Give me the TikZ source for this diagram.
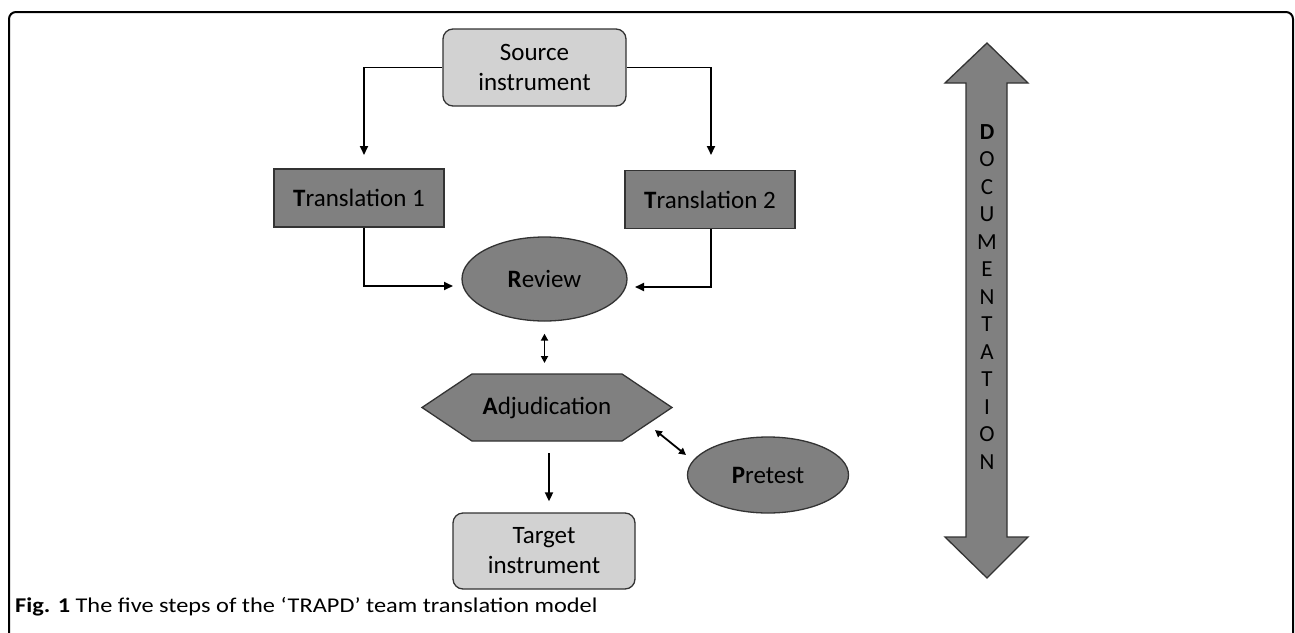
\documentclass[tikz,border=0pt]{standalone}
\usepackage{fontspec}
\setmainfont{Carlito}
\newfontfamily\capfont[FakeStretch=1.16]{Carlito}
\usetikzlibrary{arrows.meta,shapes.geometric}
\definecolor{darkfill}{HTML}{808080}
\definecolor{lightfill}{HTML}{D2D2D2}
\begin{document}
\begin{tikzpicture}[x=1pt,y=-1pt,
  lbl/.style={font=\fontsize{25}{30}\selectfont, text=black},
  lightbox/.style={draw=black!80, line width=1.3pt, fill=lightfill, rounded corners=10pt, minimum width=183pt, minimum height=77pt, align=center, lbl},
  darkbox/.style={draw=black!80, line width=1.3pt, fill=darkfill, minimum width=170pt, minimum height=58pt, lbl},
  darkell/.style={ellipse, draw=black!80, line width=1.3pt, fill=darkfill, inner sep=0pt, lbl},
  shapeline/.style={draw=black!80, line width=1.3pt, fill=darkfill},
  conn/.style={line width=1.8pt, -{Triangle[length=9pt,width=8pt]}},
  dconn/.style={line width=1.8pt, {Triangle[length=7pt,width=7pt]}-{Triangle[length=7pt,width=7pt]}}]
\useasboundingbox (0,0) rectangle (1295,632);
% frame
\draw[line width=2pt, rounded corners=7pt] (9,660) -- (9,12) -- (1293,12) -- (1293,660);
% nodes
\node[lightbox] (src) at (534.5,67.5) {Source\\instrument};
\node[darkbox] (t1) at (359,198) {\textbf{T}ranslation 1};
\node[darkbox] (t2) at (710,199.5) {\textbf{T}ranslation 2};
\node[darkell, minimum width=165pt, minimum height=84pt] (rev) at (544.5,279) {\textbf{R}eview};
\coordinate (hl) at (422,407.5);
\coordinate (htl) at (472,374);
\coordinate (htr) at (622,374);
\coordinate (hr) at (672,407.5);
\coordinate (hbr) at (622,441);
\coordinate (hbl) at (472,441);
\draw[shapeline] (hl) -- (htl) -- (htr) -- (hr) -- (hbr) -- (hbl) -- cycle;
\node[lbl] (adj) at (547,407.5) {\textbf{A}djudication};
\node[darkell, minimum width=161pt, minimum height=76pt] (pre) at (768,475) {\textbf{P}retest};
\node[lightbox, minimum width=182pt, minimum height=76pt] (tgt) at (544,551) {Target\\instrument};
% documentation arrow
\draw[shapeline] (987,43) -- (1028,83) -- (1007,83) -- (1007,537) -- (1028,537) -- (987,578) -- (945,537) -- (966,537) -- (966,83) -- (945,83) -- cycle;
\node[font=\fontsize{23}{27.5}\selectfont, align=center, inner sep=0pt] (doc) at (987,297)
  {\textbf{D}\\O\\C\\U\\M\\E\\N\\T\\A\\T\\I\\O\\N};
% connectors
\coordinate (a1) at (364,155);
\coordinate (a2) at (711,155);
\draw[conn] (src.west) -| (a1);
\draw[conn] (src.east) -| (a2);
\coordinate (b1) at (453,286);
\coordinate (b2) at (635,287);
\draw[conn] (t1.south -| a1) |- (b1);
\draw[conn] (t2.south -| a2) |- (b2);
\draw[dconn, shorten <=12pt, shorten >=11pt] (rev.south) -- (rev.south |- htl);
\coordinate (d1) at (549,441);
\draw[conn, shorten <=12pt, shorten >=11pt] (d1) -- (d1 |- tgt.north);
\coordinate (e1) at (655,430);
\coordinate (e2) at (686,455);
\draw[dconn] (e1) -- (e2);
% caption
\node[anchor=west, font=\capfont\fontsize{21}{24}\selectfont, inner sep=0pt] (cap) at (15,607)
  {\textbf{Fig. 1} The five steps of the ‘TRAPD’ team translation model};
\end{tikzpicture}
\end{document}
